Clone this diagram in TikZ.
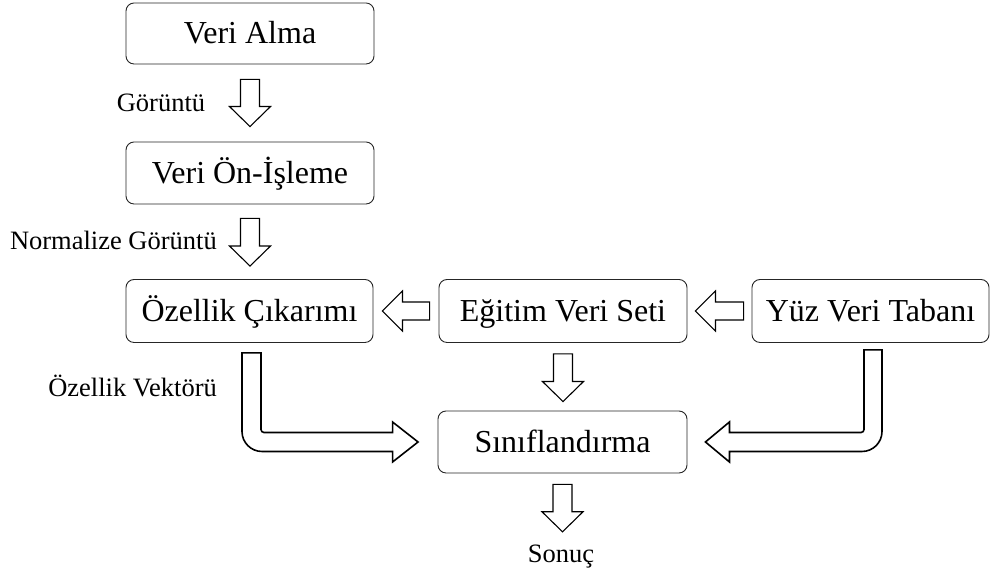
\documentclass[tikz,border=0pt]{standalone}
\usepackage{fontspec}
\setmainfont{Liberation Serif}
\usetikzlibrary{calc}
\tikzset{
  procbox/.style={draw=black!85, line width=0.9pt, rounded corners=8pt, fill=white,
    inner sep=0pt, font=\fontsize{32}{37}\selectfont, text height=21pt, text depth=0pt},
  lbl/.style={inner sep=0pt, font=\fontsize{26.5}{31}\selectfont},
  blk/.style={draw=black, fill=white, line width=1.1pt, line join=miter},
  bentblk/.style={blk, line width=1.6pt},
}
% vertical block arrow from south of #1 to north of #2, gaps #3 (top) and #4 (tip)
\newcommand{\mkdownarrow}[4]{%
  \draw[blk] let \p1=(#1.south), \p2=(#2.north) in
    (\x1-9.5,\y1-#3) -- (\x1+9.5,\y1-#3) -- (\x1+9.5,\y2+#4+20) -- (\x1+20.5,\y2+#4+20)
    -- (\x1,\y2+#4) -- (\x1-20.5,\y2+#4+20) -- (\x1-9.5,\y2+#4+20) -- cycle;}
% horizontal block arrow from west of #1 to east of #2
\newcommand{\mkleftarrow}[3]{%
  \draw[blk] let \p1=(#1.west), \p2=(#2.east) in
    (\x1-#3,\y1+9) -- (\x2+#3+20,\y1+9) -- (\x2+#3+20,\y1+20) -- (\x2+#3,\y1)
    -- (\x2+#3+20,\y1-20) -- (\x2+#3+20,\y1-9) -- (\x1-#3,\y1-9) -- cycle;}
\begin{document}
\begin{tikzpicture}[x=1pt,y=1pt]
\useasboundingbox (0,0) rectangle (991,577);

% boxes
\node[procbox, minimum width=248pt, minimum height=61pt] (A) at (250,543.5) {Veri Alma};
\node[procbox, minimum width=248pt, minimum height=62pt] (B) at (250,404) {Veri Ön-İşleme};
\node[procbox, minimum width=247pt, minimum height=63pt] (C) at (249.5,266) {Özellik Çıkarımı};
\node[procbox, minimum width=248pt, minimum height=63pt] (D) at (563,266) {Eğitim Veri Seti};
\node[procbox, minimum width=237pt, minimum height=63pt] (E) at (870.5,266) {Yüz Veri Tabanı};
\node[procbox, minimum width=249pt, minimum height=62pt] (F) at (562.5,135) {Sınıflandırma};

% labels
\node[lbl, anchor=base] (g1) at (161,465) {Görüntü};
\node[lbl, anchor=base east] (g2) at (217,327) {Normalize Görüntü};
\node[lbl, anchor=base east] (g3) at (217,180) {Özellik Vektörü};
\node[lbl, anchor=base, text height=17.5pt, text depth=0pt] (S) at (561,14) {Sonuç};

% straight block arrows
\mkdownarrow{A}{B}{15}{15}
\mkdownarrow{B}{C}{14}{13}
\mkdownarrow{D}{F}{11}{9}
\mkdownarrow{F}{S}{11}{13.5}
\mkleftarrow{D}{C}{9}
\mkleftarrow{E}{D}{8}

% bent arrow: Ozellik Cikarimi -> Siniflandirma
\draw[bentblk] let \p1=(C.south), \p2=(F.west) in
  (\x1-7.5,\y1-10) -- (\x1+11.5,\y1-10) -- (\x1+11.5,\y2+12.5)
  arc[start angle=180,end angle=270,radius=3]
  -- (\x2-45,\y2+9.5) -- (\x2-45,\y2+20) -- (\x2-19.5,\y2) -- (\x2-45,\y2-20)
  -- (\x2-45,\y2-9.5) -- (\x1+12.5,\y2-9.5)
  arc[start angle=270,end angle=180,radius=20] -- cycle;

% bent arrow: Yuz Veri Tabani -> Siniflandirma
\draw[bentblk] let \p1=(E.south), \p2=(F.east) in
  (\x1-6.5,\y1-7) -- (\x1+11.5,\y1-7) -- (\x1+11.5,\y2+10.5)
  arc[start angle=0,end angle=-90,radius=20]
  -- (\x2+42,\y2-9.5) -- (\x2+42,\y2-20) -- (\x2+18,\y2) -- (\x2+42,\y2+20)
  -- (\x2+42,\y2+9.5) -- (\x1-9.5,\y2+9.5)
  arc[start angle=270,end angle=360,radius=3] -- cycle;
\end{tikzpicture}
\end{document}
